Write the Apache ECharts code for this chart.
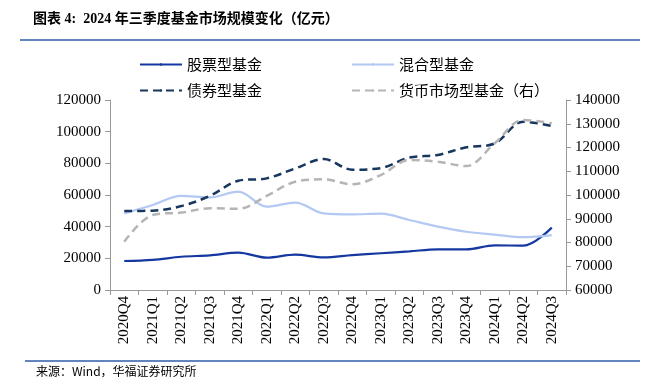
<!DOCTYPE html>
<html><head><meta charset="utf-8">
<script src="https://cdn.jsdelivr.net/npm/echarts@6/dist/echarts.min.js"></script>
<style>html,body{margin:0;padding:0;background:#fff}#c{width:655px;height:387px}</style>
</head><body><div id="c"></div>
<script>
const categories = ['2020Q4','2021Q1','2021Q2','2021Q3','2021Q4','2022Q1','2022Q2','2022Q3','2022Q4','2023Q1','2023Q2','2023Q3','2023Q4','2024Q1','2024Q2','2024Q3'];
const stockFund = [18300,19000,21000,21900,23600,20400,22300,20600,22000,23200,24400,25700,25700,28200,28000,39400];
const mixedFund = [48400,53700,59400,58500,62100,52600,55200,48400,47800,48200,44200,40000,36800,35000,33400,34700];
const bondFund  = [49900,50100,53000,59400,69000,70500,76800,82700,76000,77000,83600,85300,90100,92600,106300,103600];
const moneyFund = [80300,91600,92600,94400,94200,99600,105600,106600,104500,108400,114700,114000,112200,121800,131600,130200];
const leftTicks = [0,20000,40000,60000,80000,100000,120000];
const rightTicks = [60000,70000,80000,90000,100000,110000,120000,130000,140000];
const names = ['股票型基金','混合型基金','债券型基金','货币市场型基金（右）'];

const serif = '"Liberation Serif","Noto Sans CJK SC",serif';
const cjk = '"Noto Sans CJK SC","Liberation Serif",sans-serif';
const chart = echarts.init(document.getElementById('c'), null, {renderer:'canvas'});
const legendBase = {orient:'horizontal', itemWidth:42, itemHeight:3, itemGap:10,
  textStyle:{fontFamily:cjk, fontSize:15, color:'#000'}};
const plain = v => String(v);
chart.setOption({
  animation:false,
  title:{text:'图表 4:  2024 年三季度基金市场规模变化（亿元）', left:28, top:7,
    textStyle:{fontFamily:serif, fontWeight:'bold', fontSize:14, color:'#000'}},
  graphic:[
    {type:'line', shape:{x1:20,y1:40,x2:640,y2:40}, style:{stroke:'#2f5da8', lineWidth:1.5}},
    {type:'line', shape:{x1:25,y1:361,x2:640,y2:361}, style:{stroke:'#2f5da8', lineWidth:1.5}},
    {type:'text', left:36, top:365, style:{text:'来源：Wind，华福证券研究所', font:'12px "Noto Sans CJK SC", sans-serif', fill:'#000'}}
  ],
  legend:[
    Object.assign({}, legendBase, {data:[names[0]], left:134, top:52}),
    Object.assign({}, legendBase, {data:[names[1]], left:346, top:52}),
    Object.assign({}, legendBase, {data:[names[2]], left:134, top:78}),
    Object.assign({}, legendBase, {data:[names[3]], left:346, top:78})
  ],
  grid:{left:110, right:89, top:100, bottom:97, containLabel:false},
  xAxis:{type:'category', data:categories, boundaryGap:true,
    axisLine:{lineStyle:{color:'#999'}},
    axisTick:{show:true, alignWithLabel:false, length:5, lineStyle:{color:'#999'}},
    axisLabel:{rotate:90, interval:0, fontFamily:serif, fontSize:15, color:'#000', margin:6}},
  yAxis:[
    {type:'value', min:leftTicks[0], max:leftTicks[leftTicks.length-1], interval:20000, position:'left',
      axisLine:{show:true, lineStyle:{color:'#999'}},
      axisTick:{show:true, length:5, lineStyle:{color:'#999'}},
      splitLine:{show:false},
      axisLabel:{formatter:plain, fontFamily:serif, fontSize:15, color:'#000', margin:9}},
    {type:'value', min:rightTicks[0], max:rightTicks[rightTicks.length-1], interval:10000, position:'right',
      axisLine:{show:true, lineStyle:{color:'#999'}},
      axisTick:{show:true, length:5, lineStyle:{color:'#999'}},
      splitLine:{show:false},
      axisLabel:{formatter:plain, fontFamily:serif, fontSize:15, color:'#000', margin:9}}
  ],
  series:[
    {name:names[0], type:'line', data:stockFund, smooth:0.35, symbol:'none', yAxisIndex:0,
      itemStyle:{color:'#1438a0'}, lineStyle:{color:'#1438a0', width:2.2}},
    {name:names[1], type:'line', data:mixedFund, smooth:0.35, symbol:'none', yAxisIndex:0,
      itemStyle:{color:'#b3c8f2'}, lineStyle:{color:'#b3c8f2', width:2.2}},
    {name:names[2], type:'line', data:bondFund, smooth:0.35, symbol:'none', yAxisIndex:0,
      itemStyle:{color:'#17375e'}, lineStyle:{color:'#17375e', width:2.5, type:[8,5]}},
    {name:names[3], type:'line', data:moneyFund, smooth:0.35, symbol:'none', yAxisIndex:1,
      itemStyle:{color:'#b5b5b5'}, lineStyle:{color:'#b5b5b5', width:2.5, type:[8,5]}}
  ]
});
</script></body></html>
